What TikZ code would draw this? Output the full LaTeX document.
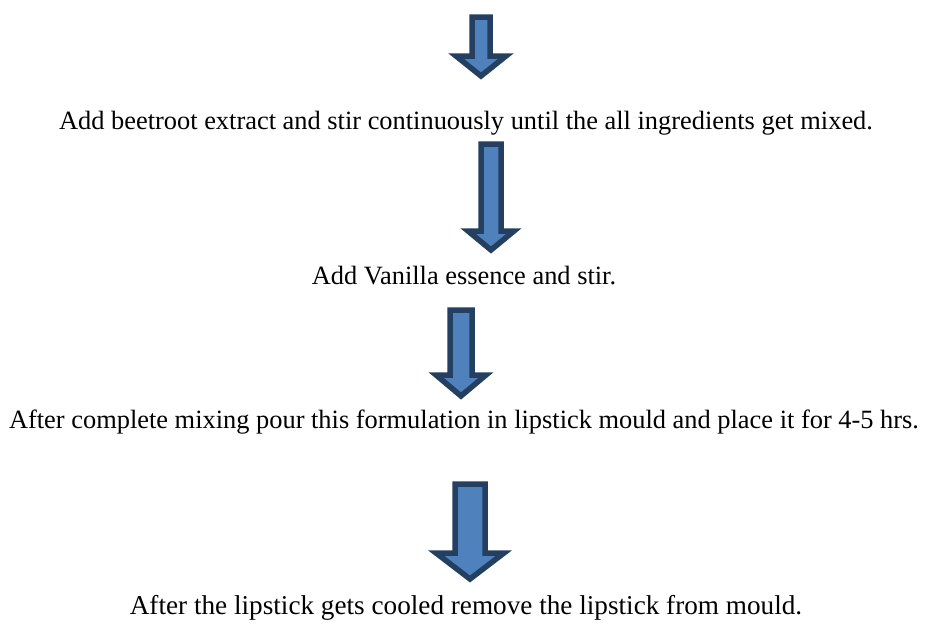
\documentclass[tikz,border=0pt]{standalone}
\usepackage{fontspec}
\setmainfont{Liberation Serif}
\definecolor{arrowfill}{HTML}{4F81BD}
\definecolor{arrowline}{HTML}{243F60}
\begin{document}
\begin{tikzpicture}[x=1pt,y=-1pt,
	blockarrow/.style={draw=arrowline,fill=arrowfill,line width=5.5pt,line join=miter},
	steptext/.style={font=\fontsize{26.4}{30}\selectfont,inner sep=0pt}]
	\useasboundingbox (0,0) rectangle (930,624);
	% arrows
	\draw[blockarrow] (472,17)--(490,17)--(490,56)--(506,56)--(481,76)--(456,56)--(472,56)--cycle;
	\draw[blockarrow] (481,144)--(501,144)--(501,231)--(514,231)--(491,250)--(468,231)--(481,231)--cycle;
	\draw[blockarrow] (450,310)--(472,310)--(472,375)--(486,375)--(461,396)--(436,375)--(450,375)--cycle;
	\draw[blockarrow] (455,484)--(485,484)--(485,553)--(504,553)--(470,579)--(436,553)--(455,553)--cycle;
	% steps
	\node[steptext] (add) at (466,123) {Add beetroot extract and stir continuously until the all ingredients get mixed.};
	\node[steptext] (vanilla) at (464,276) {Add Vanilla essence and stir.};
	\node[steptext] (pour) at (464,422) {After complete mixing pour this formulation in lipstick mould and place it for 4-5 hrs.};
	\node[steptext,font=\fontsize{27.2}{31}\selectfont] (remove) at (466,608) {After the lipstick gets cooled remove the lipstick from mould.};
\end{tikzpicture}
\end{document}
